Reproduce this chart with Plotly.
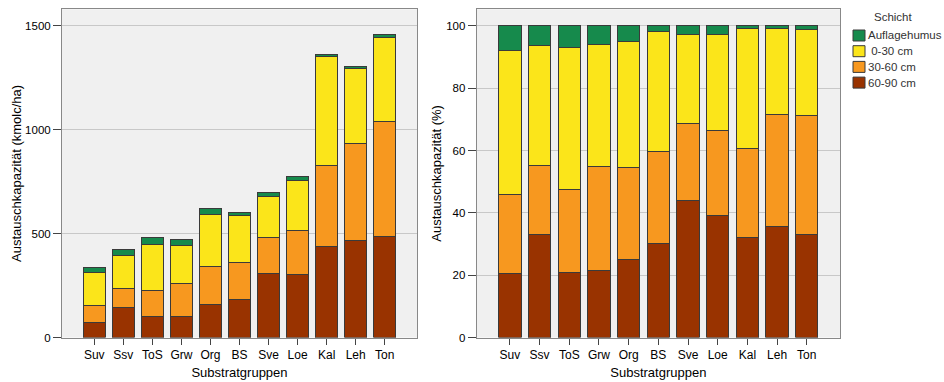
import plotly.graph_objects as go

categories = ["Suv", "Ssv", "ToS", "Grw", "Org", "BS", "Sve", "Loe", "Kal", "Leh", "Ton"]

# absolute values (kmolc/ha) per layer
abs_60_90 = [72, 143, 103, 103, 157, 184, 308, 305, 438, 467, 488]
abs_30_60 = [84, 91, 125, 157, 183, 175, 172, 211, 391, 466, 551]
abs_0_30 = [155, 162, 220, 181, 252, 230, 197, 238, 525, 360, 403]
abs_aufl = [26, 29, 33, 29, 30, 12, 19, 21, 9, 11, 18]

# percentage shares per layer
pct_60_90 = [20.6, 33.2, 20.9, 21.4, 24.9, 30.3, 44.1, 39.1, 32.1, 35.6, 33.2]
pct_30_60 = [25.2, 22.0, 26.6, 33.6, 29.5, 29.4, 24.6, 27.4, 28.7, 36.0, 38.0]
pct_0_30 = [46.2, 38.4, 45.6, 39.0, 40.7, 38.4, 28.6, 30.7, 38.5, 27.5, 27.6]
pct_aufl = [8.0, 6.4, 6.9, 6.0, 4.9, 1.9, 2.7, 2.8, 0.7, 0.9, 1.2]

layer_names = ["60-90 cm", "30-60 cm", " 0-30 cm", "Auflagehumus"]
layer_colors = ["#993300", "#f7981f", "#fbe51a", "#168a4c"]
legend_title = "Schicht"

abs_series = [abs_60_90, abs_30_60, abs_0_30, abs_aufl]
pct_series = [pct_60_90, pct_30_60, pct_0_30, pct_aufl]

W, H = 944, 382


def px(x):
    return x / W


def py(y):
    return 1 - y / H


fig = go.Figure()
for name, color, vals in zip(layer_names, layer_colors, abs_series):
    fig.add_trace(go.Bar(x=categories, y=vals, name=name, marker_color=color,
                         marker_line=dict(color="#3a3a3a", width=1), width=0.77,
                         xaxis="x", yaxis="y", showlegend=False))
for name, color, vals in zip(layer_names, layer_colors, pct_series):
    fig.add_trace(go.Bar(x=categories, y=vals, name=name, marker_color=color,
                         marker_line=dict(color="#3a3a3a", width=1), width=0.75,
                         xaxis="x2", yaxis="y2", showlegend=False))

FAM = "Liberation Sans, Arial, sans-serif"
xtick_font = dict(family=FAM, size=12, color="#000000")
ytick_font = dict(family=FAM, size=11.5, color="#000000")
title_font = dict(family=FAM, size=13, color="#000000")
axis_common = dict(showline=True, linecolor="#888888", linewidth=1, mirror=True,
                   ticks="outside", tickcolor="#444444", automargin=False)

fig.update_layout(
    width=W, height=H,
    margin=dict(l=0, r=0, t=0, b=0),
    paper_bgcolor="#ffffff",
    plot_bgcolor="#f0f0f0",
    barmode="stack",
    showlegend=False,
    xaxis=dict(domain=[px(62), px(417)], range=[-1.11, 11.11], anchor="y",
               title=dict(text="Substratgruppen", font=title_font, standoff=6),
               tickfont=xtick_font, ticklen=6, showgrid=False, **axis_common),
    yaxis=dict(domain=[py(337.5), py(9.3)], range=[0, 1579], anchor="x",
               title=dict(text="Austauschkapazität (kmolc/ha)", font=title_font, standoff=0),
               tickvals=[0, 500, 1000, 1500], ticklen=8, tickfont=ytick_font,
               showgrid=True, gridcolor="#c8c8c8", gridwidth=1, zeroline=False, **axis_common),
    xaxis2=dict(domain=[px(476.7), px(840)], range=[-1.12, 11.12], anchor="y2",
                title=dict(text="Substratgruppen", font=title_font, standoff=6),
                tickfont=xtick_font, ticklen=6, showgrid=False, **axis_common),
    yaxis2=dict(domain=[py(337.5), py(9.3)], range=[0, 105.3], anchor="x2",
                title=dict(text="Austauschkapazität (%)", font=title_font, standoff=1),
                tickvals=[0, 20, 40, 60, 80, 100], ticklen=8, tickfont=ytick_font,
                showgrid=True, gridcolor="#c8c8c8", gridwidth=1, zeroline=False, **axis_common),
)

# manual legend (SPSS style: small square swatch directly left of label)
legend_font = dict(family=FAM, size=11.5, color="#333333")
fig.add_annotation(x=px(893), y=py(17), xref="paper", yref="paper", text=legend_title,
                   showarrow=False, xanchor="center", yanchor="middle", font=legend_font)
legend_rows = list(zip(layer_names, layer_colors))[::-1]
for i, (name, color) in enumerate(legend_rows):
    cy = 35.5 + i * 15.7
    fig.add_shape(type="rect", xref="paper", yref="paper",
                  x0=px(853), x1=px(865), y0=py(cy - 5.5), y1=py(cy + 5.5),
                  fillcolor=color, line=dict(color="#3a3a3a", width=1))
    fig.add_annotation(x=px(867), y=py(cy), xref="paper", yref="paper", text=name,
                       showarrow=False, xanchor="left", yanchor="middle", font=legend_font,
                       borderpad=0)

# remove the browser's default 8px body margin so the figure fills the window exactly
fig.write_html("out.html", config={"displayModeBar": False},
               post_script="document.body.style.margin='0';document.body.style.overflow='hidden';")
